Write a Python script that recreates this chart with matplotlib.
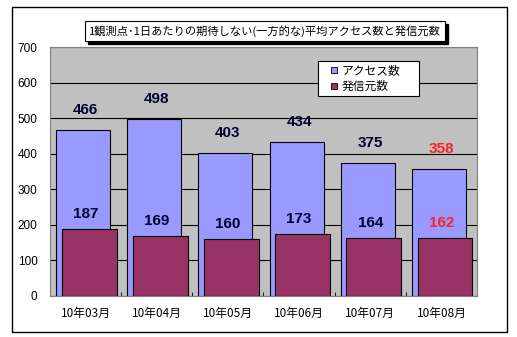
import matplotlib
matplotlib.use("Agg")
import matplotlib.pyplot as plt
from matplotlib.patches import Rectangle
from matplotlib.lines import Line2D
import numpy as np

plt.rcParams['font.family'] = ['Noto Sans CJK JP', 'DejaVu Sans']

months = ["10年03月", "10年04月", "10年05月", "10年06月", "10年07月", "10年08月"]
access = [466, 498, 403, 434, 375, 358]
sources = [187, 169, 160, 173, 164, 162]
title = "1観測点･1日あたりの期待しない(一方的な)平均アクセス数と発信元数"
series_names = ["アクセス数", "発信元数"]
yticks = [0, 100, 200, 300, 400, 500, 600, 700]

W, H = 517, 337
fig = plt.figure(figsize=(W / 100, H / 100), dpi=100)
fig.patch.set_facecolor("white")
fig.patches.append(Rectangle((12 / W, 1 - 332 / H), 495 / W, 325 / H, transform=fig.transFigure,
                             fill=False, edgecolor="black", linewidth=1.0))

ax = fig.add_axes([50 / W, 1 - 296 / H, 427 / W, 249 / H])
ax.set_facecolor("#c0c0c0")
x = np.arange(len(months))
blue, purple = "#9999ff", "#993366"
ax.bar(x - 0.035, access, width=0.76, color=blue, edgecolor="black", linewidth=0.8, zorder=3)
ax.bar(x + 0.05, sources, width=0.77, color=purple, edgecolor="black", linewidth=0.8, zorder=4)

ax.set_xlim(-0.5, len(months) - 0.5)
ax.set_ylim(0, 700)
ax.set_yticks(yticks)
ax.set_yticklabels([str(v) for v in yticks], fontsize=8.5, family=['Liberation Sans', 'DejaVu Sans'])
ax.yaxis.grid(True, color="black", linewidth=0.8, zorder=1)
ax.set_axisbelow(True)
ax.tick_params(axis='y', length=0, pad=9)
ax.set_xticks(x)
ax.set_xticklabels(months, fontsize=8.5)
ax.tick_params(axis='x', length=0, pad=8)
ax.set_xticks(np.arange(len(months) + 1) - 0.5, minor=True)
ax.tick_params(axis='x', which='minor', direction='in', length=3, color='black')
for s in ax.spines.values():
    s.set_color("#808080")
    s.set_linewidth(0.8)

for i, (a, s) in enumerate(zip(access, sources)):
    col = "#ff2020" if i == len(months) - 1 else "#000033"
    ax.annotate(str(a), (x[i], a), xytext=(0, 20), textcoords="offset pixels", ha="center", va="center",
                fontsize=11, fontweight="bold", color=col, family=['Liberation Sans', 'DejaVu Sans'], zorder=6)
    ax.annotate(str(s), (x[i], s), xytext=(0, 15), textcoords="offset pixels", ha="center", va="center",
                fontsize=11, fontweight="bold", color=col, family=['Liberation Sans', 'DejaVu Sans'], zorder=6)

handles = [Line2D([], [], linestyle="none", marker="s", markersize=5, markerfacecolor=c,
                  markeredgecolor="black", markeredgewidth=0.6) for c in (blue, purple)]
leg = ax.legend(handles, series_names, loc="upper left",
                bbox_to_anchor=(0.628, 0.0, 0.236, 0.944), mode="expand",
                fontsize=8.5, frameon=True, fancybox=False,
                edgecolor="black", framealpha=1, handlelength=2.2, handletextpad=-0.5,
                borderpad=0.25, labelspacing=0.25, borderaxespad=0)
leg.get_frame().set_linewidth(0.8)
leg.set_zorder(10)

# title box with shadow
fig.patches.append(Rectangle((88 / W, 1 - 44 / H), 360 / W, 20 / H, transform=fig.transFigure,
                             facecolor="black", edgecolor="black", zorder=5))
fig.patches.append(Rectangle((85 / W, 1 - 41 / H), 360 / W, 20 / H, transform=fig.transFigure,
                             facecolor="white", edgecolor="black", linewidth=0.8, zorder=6))
fig.text(265 / W, 1 - 31 / H, title, ha="center", va="center", fontsize=8.1, zorder=7)

fig.savefig("out.png", dpi=100)
